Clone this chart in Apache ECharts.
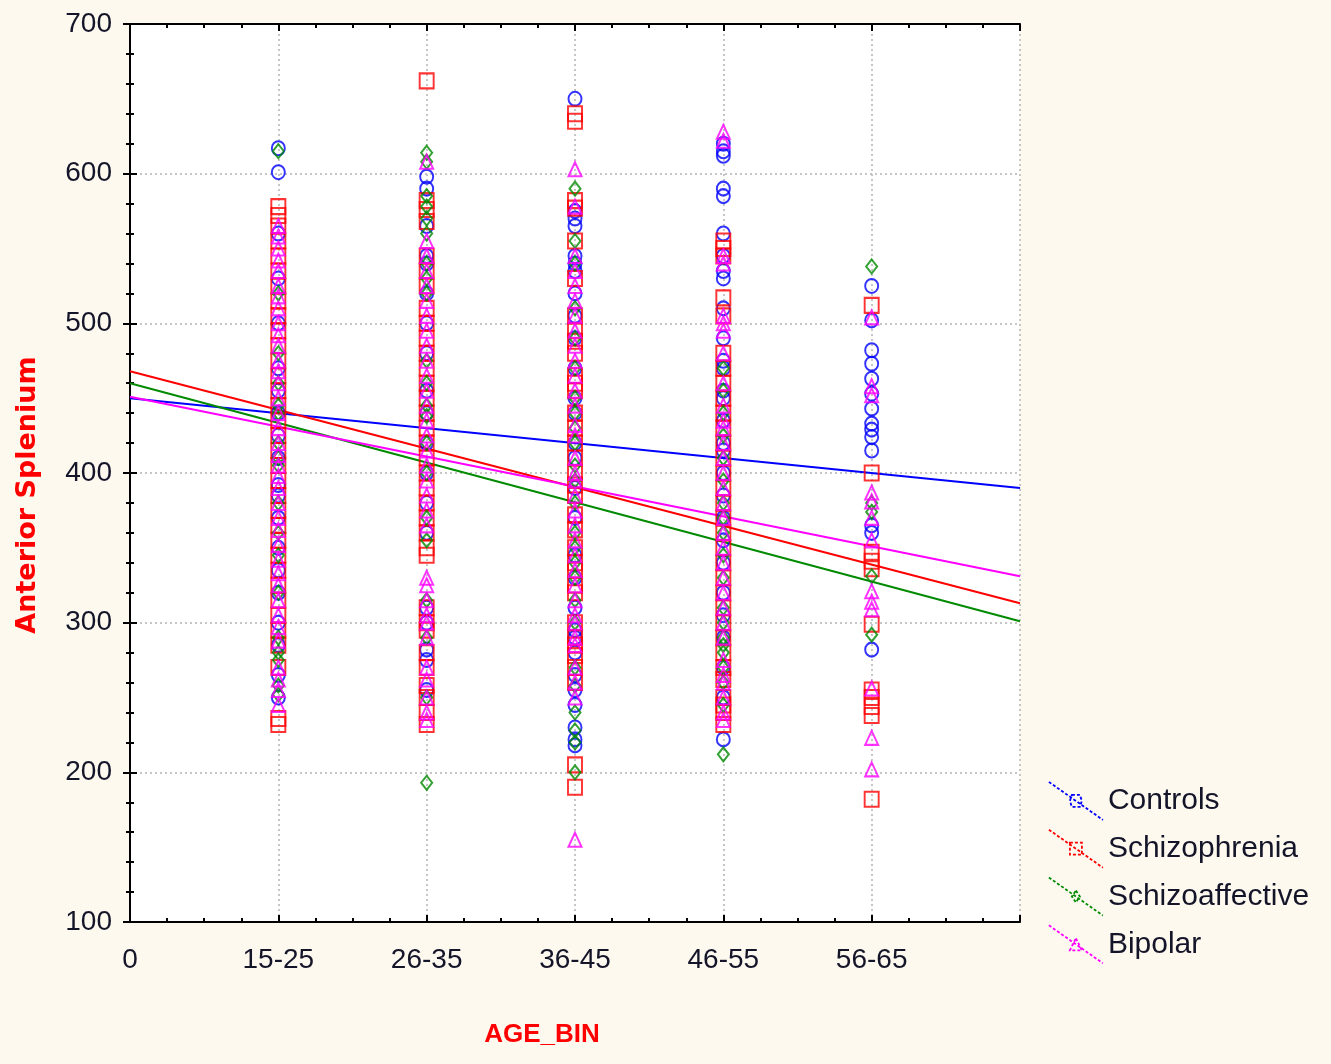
<!DOCTYPE html>
<html>
<head>
<meta charset="utf-8">
<style>
  html, body { margin: 0; padding: 0; background: #fdf9ef; }
  #chart { width: 1331px; height: 1064px; }
</style>
<script src="https://cdn.jsdelivr.net/npm/echarts@6/dist/echarts.min.js"></script>
</head>
<body>
<div id="chart"></div>
<script>
// tick labels of the x axis (position 0..6)
var ageBins = ["0", "15-25", "26-35", "36-45", "46-55", "56-65", ""];

// values per age bin (index 0 = 15-25 ... 4 = 56-65)
var controlsValues = [
  [617, 601, 560, 530, 500, 470, 455, 440, 425, 410, 392, 385, 370, 350, 335, 320, 300, 285, 265, 250],
  [598, 590, 565, 545, 540, 520, 500, 480, 455, 440, 420, 400, 380, 360, 310, 300, 282, 275, 255],
  [650, 575, 570, 565, 545, 540, 535, 520, 505, 490, 470, 450, 440, 420, 410, 390, 370, 345, 330, 310, 295, 290, 280, 265, 255, 245, 230, 222, 218],
  [620, 615, 612, 590, 585, 560, 545, 535, 530, 510, 490, 475, 470, 455, 450, 435, 420, 415, 400, 385, 370, 355, 340, 320, 305, 290, 270, 250, 222],
  [525, 502, 482, 473, 463, 453, 443, 433, 429, 424, 415, 365, 360, 282]
];
var schizophreniaValues = [
  [578, 572, 565, 555, 545, 535, 525, 515, 505, 495, 485, 475, 465, 455, 445, 435, 425, 415, 405, 395, 385, 375, 365, 355, 345, 335, 325, 315, 305, 295, 285, 270, 236, 232],
  [662, 582, 576, 568, 545, 535, 525, 510, 500, 490, 480, 470, 460, 450, 440, 430, 420, 410, 400, 390, 380, 370, 360, 350, 345, 310, 300, 295, 280, 270, 258, 250, 240, 232],
  [640, 635, 582, 577, 555, 530, 505, 495, 488, 480, 465, 460, 455, 440, 430, 420, 410, 400, 392, 385, 372, 362, 350, 340, 335, 325, 320, 300, 290, 285, 278, 270, 260, 205, 190],
  [555, 550, 545, 517, 505, 480, 470, 460, 450, 440, 430, 420, 410, 400, 390, 380, 370, 360, 350, 340, 330, 320, 310, 300, 290, 280, 270, 262, 250, 245, 240, 232],
  [512, 400, 347, 341, 336, 299, 255, 250, 244, 238, 182]
];
var schizoaffectiveValues = [
  [615, 520, 480, 460, 445, 440, 420, 410, 405, 380, 360, 345, 320, 290, 280, 275, 258, 252],
  [614, 608, 585, 578, 570, 560, 540, 530, 520, 475, 460, 445, 438, 420, 400, 370, 355, 315, 290, 250, 193],
  [590, 555, 540, 510, 490, 470, 450, 440, 430, 420, 405, 395, 380, 360, 350, 340, 330, 315, 300, 270, 258, 240, 228, 220, 200],
  [470, 455, 440, 425, 410, 395, 380, 370, 360, 345, 330, 310, 300, 290, 285, 280, 270, 260, 245, 212],
  [538, 380, 374, 331, 292]
];
var bipolarValues = [
  [565, 558, 550, 542, 535, 525, 518, 510, 500, 492, 485, 475, 468, 460, 450, 440, 430, 420, 412, 405, 398, 390, 380, 370, 362, 352, 342, 333, 325, 315, 305, 297, 288, 270, 262, 255, 245],
  [608, 555, 545, 535, 525, 515, 505, 495, 485, 475, 465, 455, 445, 435, 425, 415, 405, 395, 385, 375, 365, 330, 325, 315, 305, 300, 290, 270, 262, 250, 240, 235],
  [603, 578, 545, 535, 525, 515, 505, 495, 485, 475, 465, 455, 445, 432, 425, 410, 400, 395, 385, 375, 365, 355, 345, 335, 325, 315, 305, 300, 290, 285, 270, 260, 250, 155],
  [628, 622, 545, 540, 505, 500, 495, 480, 460, 445, 435, 430, 420, 410, 400, 390, 380, 370, 360, 350, 340, 330, 320, 310, 300, 290, 275, 265, 260, 250, 240, 235],
  [504, 458, 452, 387, 381, 370, 355, 321, 314, 309, 256, 223, 202]
];

// fitted lines: value at x = 0 and x = 6
var fitX = [0, 6];
var controlsFit = [450, 390];
var schizophreniaFit = [468, 313];
var schizoaffectiveFit = [460, 301];
var bipolarFit = [451, 331];

var groupNames = ["Controls", "Schizophrenia", "Schizoaffective", "Bipolar"];
var groupColors = ["#0000ff", "#ff0000", "#008a00", "#ff00ff"];

function toPoints(bins) {
  var pts = [];
  bins.forEach(function(vals, i) {
    vals.forEach(function(v) {
      pts.push([i + 1, v]);
    });
  });
  return pts;
}

function fitLine(name, fit, color) {
  return {
    name: name,
    type: "line",
    data: [[fitX[0], fit[0]], [fitX[1], fit[1]]],
    showSymbol: false,
    symbol: "none",
    lineStyle: { color: color, width: 2 },
    silent: true,
    z: 2
  };
}

function scatter(name, values, symbol, size, color) {
  return {
    name: name,
    type: "scatter",
    data: toPoints(values),
    symbol: symbol,
    symbolSize: size,
    itemStyle: { color: "rgba(0,0,0,0)", borderColor: color, borderWidth: 2 },
    z: 3
  };
}

var lineIcon = "M0,0L54,38";
var legendIcons = [
  "path://" + lineIcon + "M23,13L31,13L33,19L31,25L23,25L21,19Z",
  "path://" + lineIcon + "M21,13L33,13L33,25L21,25Z",
  "path://" + lineIcon + "M27,13L31,19L27,25L23,19Z",
  "path://" + lineIcon + "M27,13L33,25L21,25Z"
];

var chart = echarts.init(document.getElementById("chart"));

var axisLine = { show: true, lineStyle: { color: "#000", width: 2 } };
var gridDots = { show: true, lineStyle: { color: "#b4b4b4", type: [2, 3], width: 1.5 } };

var option = {
  backgroundColor: "#fdf9ef",
  animation: false,
  grid: {
    left: 130, right: 311, top: 24, bottom: 142,
    outerBoundsMode: "none",
    containLabel: false,
    show: true, backgroundColor: "#ffffff", borderWidth: 0
  },
  legend: {
    orient: "vertical",
    left: 1048,
    top: 781,
    padding: 0,
    itemWidth: 54,
    itemHeight: 38,
    itemGap: 8,
    textStyle: { fontSize: 30, color: "#15152a", fontFamily: "Liberation Sans, Arial, sans-serif" },
    data: groupNames.map(function(n, i) {
      return {
        name: n,
        icon: legendIcons[i],
        itemStyle: { color: "rgba(0,0,0,0)", borderColor: groupColors[i], borderWidth: 1.8, borderType: [3, 2] }
      };
    })
  },
  xAxis: [
    {
      type: "value",
      min: 0,
      max: 6,
      interval: 1,
      name: "AGE_BIN",
      nameLocation: "middle",
      nameGap: 100,
      nameTextStyle: {
        color: "#ff0000", fontSize: 26, fontWeight: "bold",
        fontFamily: "Liberation Sans, Arial, sans-serif",
        padding: [0, 66, 0, 0]
      },
      axisLine: axisLine,
      axisTick: { inside: true, length: 7, lineStyle: { color: "#000", width: 2 } },
      minorTick: { show: true, splitNumber: 4, length: 4, lineStyle: { color: "#000", width: 2 } },
      axisLabel: {
        margin: 24,
        fontSize: 28,
        color: "#15152a",
        fontFamily: "Liberation Sans, Arial, sans-serif",
        formatter: function(v) { return ageBins[Math.round(v)] || ""; }
      },
      splitLine: gridDots
    },
    {
      type: "value",
      position: "top",
      min: 0,
      max: 6,
      interval: 1,
      axisLine: axisLine,
      axisTick: { inside: true, length: 7, lineStyle: { color: "#000", width: 2 } },
      minorTick: { show: true, splitNumber: 4, length: 4, lineStyle: { color: "#000", width: 2 } },
      axisLabel: { show: false },
      splitLine: { show: false }
    }
  ],
  yAxis: [
    {
      type: "value",
      min: 100,
      max: 700,
      interval: 100,
      name: "Anterior Splenium",
      nameLocation: "middle",
      nameGap: 89,
      nameRotate: 90,
      nameTextStyle: {
        color: "#ff0000", fontSize: 27, fontWeight: "bold",
        fontFamily: "DejaVu Sans, Verdana, sans-serif",
        padding: [0, 44, 0, 0]
      },
      axisLine: axisLine,
      axisTick: { inside: true, length: 7, lineStyle: { color: "#000", width: 2 } },
      minorTick: { show: true, splitNumber: 5, length: 4, lineStyle: { color: "#000", width: 2 } },
      axisLabel: { margin: 18, fontSize: 28, color: "#15152a", fontFamily: "Liberation Sans, Arial, sans-serif" },
      splitLine: gridDots
    },
    {
      type: "value",
      position: "right",
      min: 100,
      max: 700,
      interval: 100,
      axisLine: axisLine,
      axisTick: { inside: true, length: 7, lineStyle: { color: "#000", width: 2 } },
      minorTick: { show: true, splitNumber: 5, length: 4, lineStyle: { color: "#000", width: 2 } },
      axisLabel: { show: false },
      splitLine: { show: false }
    }
  ],
  series: [
    fitLine("Controls", controlsFit, groupColors[0]),
    fitLine("Schizophrenia", schizophreniaFit, groupColors[1]),
    fitLine("Schizoaffective", schizoaffectiveFit, groupColors[2]),
    fitLine("Bipolar", bipolarFit, groupColors[3]),
    scatter("Controls", controlsValues, "circle", [13, 14], groupColors[0]),
    scatter("Schizophrenia", schizophreniaValues, "rect", [14, 15], groupColors[1]),
    scatter("Schizoaffective", schizoaffectiveValues, "diamond", [11, 14], groupColors[2]),
    scatter("Bipolar", bipolarValues, "triangle", [13, 14], groupColors[3])
  ]
};

chart.setOption(option);
window.addEventListener("resize", chart.resize);
</script>
</body>
</html>
